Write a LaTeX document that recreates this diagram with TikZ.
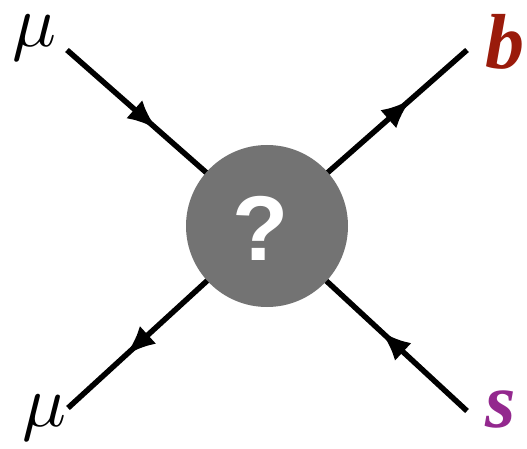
\documentclass[tikz,border=0pt]{standalone}
\usepackage{fontspec}
\setmainfont{Liberation Serif}
\newfontfamily\helv{Liberation Sans}
\usetikzlibrary{arrows.meta,decorations.markings}
\definecolor{blobgray}{HTML}{737373}
\definecolor{bquark}{HTML}{9A1B0B}
\definecolor{squark}{HTML}{93288E}
\begin{document}
\begin{tikzpicture}[
  x=1pt,y=-1pt,
  fermion/.style={line width=5.5pt,black,postaction={decorate},
    decoration={markings,mark=at position #1 with {\arrow{Latex[length=30pt,width=24pt]}}}},
  label/.style={inner sep=0pt},
  quark/.style={inner sep=0pt,font=\fontsize{78}{78}\selectfont\bfseries\itshape}]
\useasboundingbox (0,0) rectangle (527,449);
\coordinate (v) at (267,226);
\coordinate (mu1) at (67,50);
\coordinate (bq) at (467,50);
\coordinate (mu2) at (68,408);
\coordinate (sq) at (467,411);
% external legs
\draw[fermion=0.45] (mu1) -- (v);
\draw[fermion=0.72] (v) -- (bq);
\draw[fermion=0.71] (v) -- (mu2);
\draw[fermion=0.43] (sq) -- (v);
% unknown interaction
\node[circle,fill=blobgray,minimum size=162pt,inner sep=0pt] (blob) at (v) {};
\node[text=white,inner sep=0pt,font=\helv\bfseries\fontsize{92}{92}\selectfont] (qm) at (261,228) {?};
% particle labels
\node[label] (lmu1) at (34,38) {\scalebox{7.3}{$\mu$}};
\node[label] (lmu2) at (44,418) {\scalebox{7.3}{$\mu$}};
\node[quark,text=bquark] (lb) at (505,42) {b};
\node[quark,text=squark] (ls) at (501,410) {s};
\end{tikzpicture}
\end{document}
